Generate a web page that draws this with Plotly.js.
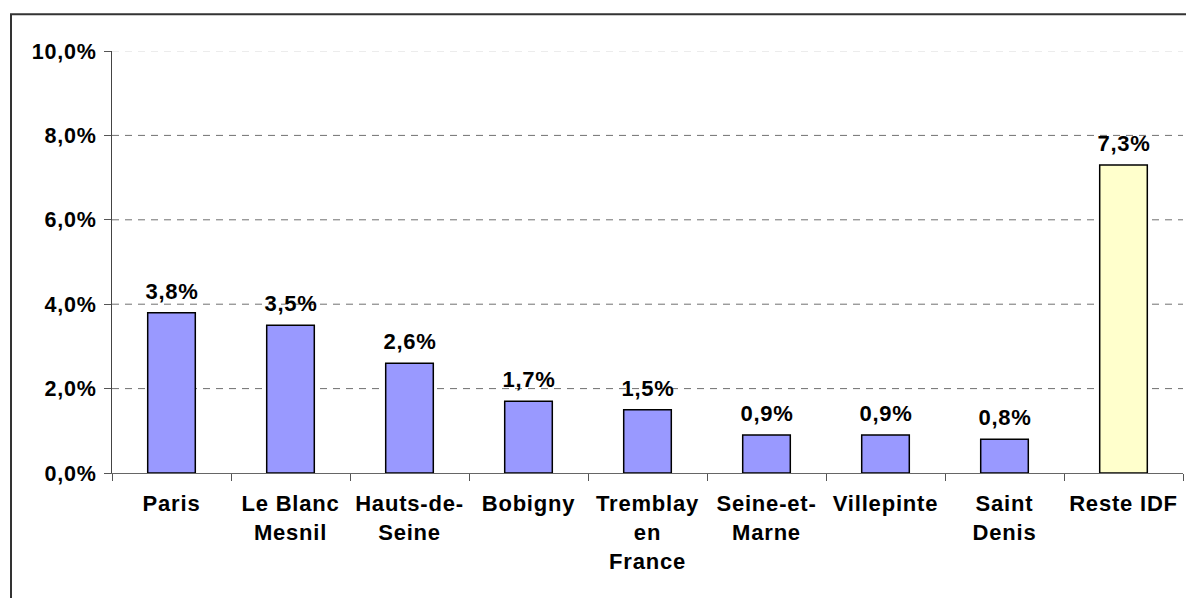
<!DOCTYPE html>
<html>
<head>
<meta charset="utf-8">
<script src="https://cdn.plot.ly/plotly-3.0.1.min.js"></script>
<style>
html,body{margin:0;padding:0;background:#fff;}
#chart{width:1186px;height:598px;}
#chart svg text{letter-spacing:0.8px;}
</style>
</head>
<body>
<div id="chart"></div>
<script>
const categories = ['Paris','Le Blanc<br>Mesnil','Hauts-de-<br>Seine','Bobigny','Tremblay<br>en<br>France','Seine-et-<br>Marne','Villepinte','Saint<br>Denis','Reste IDF'];
const values = [3.8, 3.5, 2.6, 1.7, 1.5, 0.9, 0.9, 0.8, 7.3];
const barColors = ['#9999FF','#9999FF','#9999FF','#9999FF','#9999FF','#9999FF','#9999FF','#9999FF','#FFFFCC'];
const yTicks = [0, 2, 4, 6, 8, 10];

const fmt = v => v.toFixed(1).replace('.', ',') + '%';
const FONT = 'Liberation Sans, Arial, sans-serif';
const FS = 22;

const trace = {
  type: 'bar',
  x: categories,
  y: values,
  width: 0.4,
  marker: {color: barColors, line: {color: '#000', width: 1.5}},
  hoverinfo: 'skip'
};

const shapes = [];
yTicks.filter(v => v > 0).forEach(v => {
  shapes.push({
    type: 'line', xref: 'paper', yref: 'y', x0: 0, x1: 1, y0: v, y1: v,
    layer: 'below',
    line: {color: v === 10 ? '#d9d9d9' : '#707070', width: 1, dash: '7px,6px'}
  });
});
// outer frame (left and top edges only)
shapes.push({
  type: 'path', xref: 'paper', yref: 'paper',
  path: 'M -0.0943,-0.6 L -0.0943,1.087 L 1.2,1.087',
  line: {color: '#333', width: 2}, layer: 'above'
});

const annotations = values.map((v, i) => ({
  x: categories[i], y: v, xref: 'x', yref: 'y',
  text: fmt(v), showarrow: false,
  yanchor: 'bottom', yshift: 7,
  font: {family: FONT, size: FS, color: '#000', weight: 'bold'}
}));

const layout = {
  width: 1186, height: 598,
  margin: {l: 112, r: 3, t: 51, b: 125},
  paper_bgcolor: '#fff', plot_bgcolor: '#fff',
  showlegend: false,
  font: {family: FONT, size: FS, color: '#000', weight: 'bold'},
  xaxis: {
    type: 'category',
    tickson: 'boundaries',
    ticks: 'outside', ticklen: 7, tickcolor: '#555', tickwidth: 1,
    showline: true, linecolor: '#666', linewidth: 1,
    showgrid: false, zeroline: false,
    ticklabelstandoff: 11,
    tickfont: {family: FONT, size: FS, color: '#000', weight: 'bold'},
    fixedrange: true
  },
  yaxis: {
    range: [0, 10],
    tickvals: yTicks,
    ticktext: yTicks.map(fmt),
    ticks: 'outside', ticklen: 7, tickcolor: '#555', tickwidth: 1,
    showline: true, linecolor: '#444', linewidth: 1,
    showgrid: false, zeroline: false,
    ticklabelstandoff: 3,
    tickfont: {family: FONT, size: 21.5, color: '#000', weight: 'bold'},
    fixedrange: true
  },
  shapes: shapes,
  annotations: annotations
};

Plotly.newPlot('chart', [trace], layout, {displayModeBar: false, staticPlot: true});
</script>
</body>
</html>
